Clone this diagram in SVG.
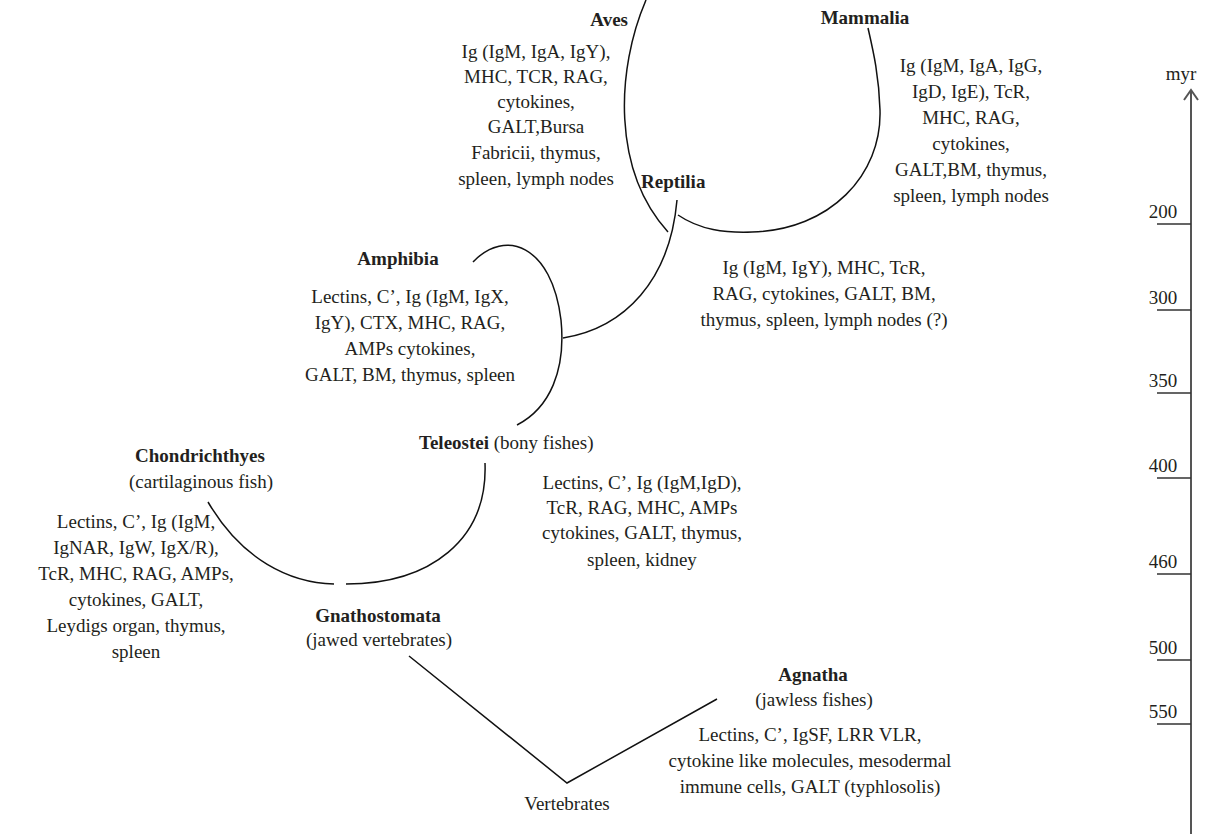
<svg xmlns="http://www.w3.org/2000/svg" width="1214" height="834" viewBox="0 0 1214 834">
<style>
text{font-family:"Liberation Serif","Times New Roman",serif;font-size:19px;fill:#231f20}
.b{font-weight:bold}
.c{text-anchor:middle}
.e{text-anchor:end}
.ln{fill:none;stroke:#111;stroke-width:1.5}
.ax{fill:none;stroke:#555;stroke-width:2}
.tk{fill:none;stroke:#333;stroke-width:1.5}
</style>
<rect width="1214" height="834" fill="#fff"/>
<g id="connectors">
<path class="ln" d="M646 0 C616 70 612 170 668 232"/>
<path class="ln" d="M677 200 C670 280 625 328 563 338"/>
<path class="ln" d="M678 215 C700 230 725 233 752 232 C830 230 882 175 880 110 C879 75 873 50 868 28"/>
<path class="ln" d="M473 262 C505 228 552 245 561 320 C566 370 550 408 517 425"/>
<path class="ln" d="M208 502 C242 560 290 583 334 584"/>
<path class="ln" d="M485 463 C488 540 430 584 346 584"/>
<path class="ln" d="M409 656 L567 783 L717 699"/>
</g>
<g id="aves">
<text class="b e" x="628" y="26">Aves</text>
<text class="c" x="536" y="58">Ig (IgM, IgA, IgY),</text>
<text class="c" x="536" y="83">MHC, TCR, RAG,</text>
<text class="c" x="536" y="108">cytokines,</text>
<text class="c" x="536" y="133">GALT,Bursa</text>
<text class="c" x="536" y="159">Fabricii, thymus,</text>
<text class="c" x="536" y="185">spleen, lymph nodes</text>
</g>
<g id="mammalia">
<text class="b c" x="865" y="24">Mammalia</text>
<text class="c" x="971" y="72">Ig (IgM, IgA, IgG,</text>
<text class="c" x="971" y="98">IgD, IgE), TcR,</text>
<text class="c" x="971" y="124">MHC, RAG,</text>
<text class="c" x="971" y="150">cytokines,</text>
<text class="c" x="971" y="176">GALT,BM, thymus,</text>
<text class="c" x="971" y="202">spleen, lymph nodes</text>
</g>
<g id="reptilia">
<text class="b" x="641" y="188">Reptilia</text>
<text class="c" x="824" y="274">Ig (IgM, IgY), MHC, TcR,</text>
<text class="c" x="824" y="300">RAG, cytokines, GALT, BM,</text>
<text class="c" x="824" y="326">thymus, spleen, lymph nodes (?)</text>
</g>
<g id="amphibia">
<text class="b c" x="398" y="265">Amphibia</text>
<text class="c" x="410" y="303">Lectins, C’, Ig (IgM, IgX,</text>
<text class="c" x="410" y="329">IgY), CTX, MHC, RAG,</text>
<text class="c" x="410" y="355">AMPs cytokines,</text>
<text class="c" x="410" y="381">GALT, BM, thymus, spleen</text>
</g>
<g id="teleostei">
<text x="419" y="449"><tspan class="b">Teleostei</tspan> (bony fishes)</text>
<text class="c" x="642" y="489">Lectins, C’, Ig (IgM,IgD),</text>
<text class="c" x="642" y="514">TcR, RAG, MHC, AMPs</text>
<text class="c" x="642" y="539">cytokines, GALT, thymus,</text>
<text class="c" x="642" y="566">spleen, kidney</text>
</g>
<g id="chondrichthyes">
<text class="b c" x="200" y="462">Chondrichthyes</text>
<text class="c" x="201" y="488">(cartilaginous fish)</text>
<text class="c" x="136" y="528">Lectins, C’, Ig (IgM,</text>
<text class="c" x="136" y="554">IgNAR, IgW, IgX/R),</text>
<text class="c" x="136" y="580">TcR, MHC, RAG, AMPs,</text>
<text class="c" x="136" y="606">cytokines, GALT,</text>
<text class="c" x="136" y="632">Leydigs organ, thymus,</text>
<text class="c" x="136" y="658">spleen</text>
</g>
<g id="gnathostomata">
<text class="b c" x="378" y="622">Gnathostomata</text>
<text class="c" x="379" y="646">(jawed vertebrates)</text>
</g>
<g id="agnatha">
<text class="b c" x="813" y="681">Agnatha</text>
<text class="c" x="814" y="706">(jawless fishes)</text>
<text class="c" x="810" y="741">Lectins, C’, IgSF, LRR VLR,</text>
<text class="c" x="810" y="767">cytokine like molecules, mesodermal</text>
<text class="c" x="810" y="793">immune cells, GALT (typhlosolis)</text>
</g>
<g id="vertebrates">
<text class="c" x="567" y="810">Vertebrates</text>
</g>
<g id="timescale">
<text class="c" x="1181" y="80">myr</text>
<path class="ax" d="M1191 834 V90 M1184 100 L1191 90 L1198 100"/>
<path class="tk" d="M1157 224 H1191 M1157 310 H1191 M1157 393 H1191 M1157 478 H1191 M1157 574 H1191 M1157 660 H1191 M1157 724 H1191"/>
<text class="c" x="1163" y="218">200</text>
<text class="c" x="1163" y="304">300</text>
<text class="c" x="1163" y="387">350</text>
<text class="c" x="1163" y="472">400</text>
<text class="c" x="1163" y="568">460</text>
<text class="c" x="1163" y="654">500</text>
<text class="c" x="1163" y="718">550</text>
</g>
</svg>
